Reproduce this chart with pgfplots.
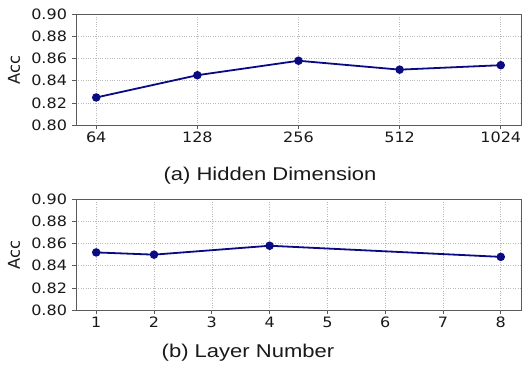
\documentclass[border=0pt]{standalone}
\usepackage{fontspec}
\usepackage{pgfplots}
\pgfplotsset{compat=1.18}
\newfontfamily\tickfont[FakeStretch=1.12]{DejaVu Sans}
\newfontfamily\labfont{DejaVu Sans}
\newfontfamily\capfont[FakeStretch=1.19]{Liberation Sans}
\definecolor{linecol}{RGB}{10,10,130}
\definecolor{framecol}{RGB}{90,90,90}
\pgfplotsset{myax/.style={
  scale only axis, width=445pt, height=111.3pt, anchor=south west,
  ymin=0.80, ymax=0.90, ytick={0.80,0.82,0.84,0.86,0.88,0.90},
  yticklabel style={/pgf/number format/fixed, /pgf/number format/fixed zerofill, /pgf/number format/precision=2, xshift=-2pt},
  /pgf/number format/assume math mode=true,
  tick label style={font=\fontsize{14.3}{14.3}\selectfont\tickfont, text=black!90},
  grid=major, major grid style={gray!55, dotted, line width=0.6pt},
  axis line style={framecol, line width=0.8pt},
  tick style={framecol, line width=0.8pt},
  tick align=outside, tickpos=left, major tick length=3.5pt,
  ylabel={Acc},
  every axis y label/.style={at={(axis description cs:-0.139,0.5)}, rotate=90, anchor=center, font=\fontsize{16.3}{16.3}\selectfont\labfont, text=black!90},
}}
\pgfplotsset{lstyle/.style={color=linecol, line width=1.8pt, mark=*, mark size=3.3pt, mark options={fill=linecol, draw=linecol, solid}}}
\begin{document}
\begin{tikzpicture}
\path[use as bounding box] (0,0) rectangle (527pt,364pt);
\begin{axis}[myax, at={(76pt,238.7pt)},
  xmin=-0.2, xmax=4.2, xtick={0,1,2,3,4}, xticklabels={64,128,256,512,1024}]
\addplot[lstyle] coordinates {(0,0.825) (1,0.845) (2,0.858) (3,0.850) (4,0.854)};
\end{axis}
\begin{axis}[myax, at={(76pt,53.7pt)},
  xmin=0.65, xmax=8.35, xtick={1,2,3,4,5,6,7,8}]
\addplot[lstyle] coordinates {(1,0.852) (2,0.850) (4,0.858) (8,0.848)};
\end{axis}
\node[font=\fontsize{18.5}{18.5}\selectfont\capfont, text=black!90] at (270pt,188pt) {(a) Hidden Dimension};
\node[font=\fontsize{18.5}{18.5}\selectfont\capfont, text=black!90] at (248pt,11pt) {(b) Layer Number};
\end{tikzpicture}
\end{document}
